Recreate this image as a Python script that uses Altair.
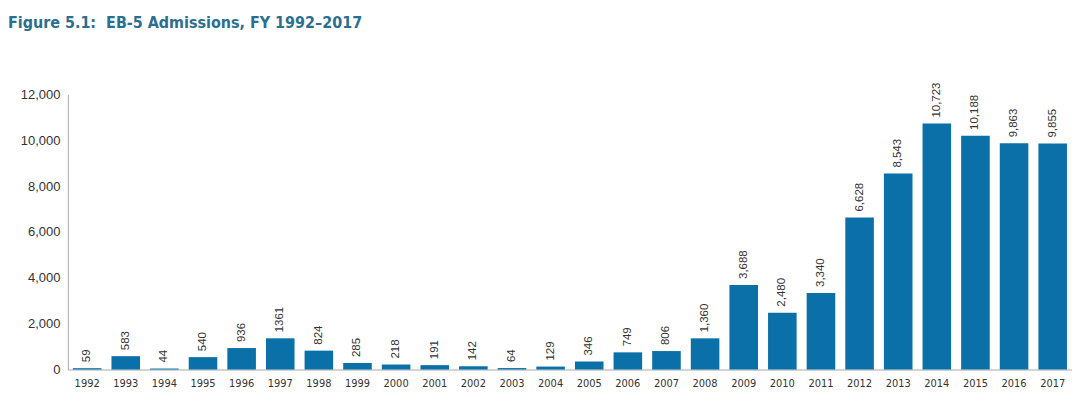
import altair as alt
import pandas as pd

years = [str(y) for y in range(1992, 2018)]
admissions = [59, 583, 44, 540, 936, 1361, 824, 285, 218, 191, 142, 64, 129,
              346, 749, 806, 1360, 3688, 2480, 3340, 6628, 8543, 10723, 10188,
              9863, 9855]
labels = ["59", "583", "44", "540", "936", "1361", "824", "285", "218", "191",
          "142", "64", "129", "346", "749", "806", "1,360", "3,688", "2,480",
          "3,340", "6,628", "8,543", "10,723", "10,188", "9,863", "9,855"]

df = pd.DataFrame({"year": years, "value": admissions, "label": labels})

x = alt.X("year:N", title=None, sort=None,
          scale=alt.Scale(paddingInner=0.26, paddingOuter=0.13),
          axis=alt.Axis(labelAngle=0, labelFontSize=11, labelColor="#333333",
                        labelFont="DejaVu Sans Condensed", domainColor="#aaaaaa",
                        ticks=False, labelPadding=8))
y = alt.Y("value:Q", title=None,
          scale=alt.Scale(domain=[0, 12000]),
          axis=alt.Axis(values=list(range(0, 12001, 2000)), format=",d",
                        grid=False, ticks=False, labelFontSize=13,
                        labelColor="#333333", labelFont="Liberation Sans",
                        domainColor="#aaaaaa", labelPadding=8))

bars = alt.Chart(df).mark_bar(color="#0a70a7").encode(x=x, y=y)
text = alt.Chart(df).mark_text(angle=270, align="left", baseline="middle",
                               dx=6, fontSize=11.5, color="#333333",
                               font="Liberation Sans").encode(
    x=alt.X("year:N", sort=None), y="value:Q", text="label:N")

chart = (bars + text).properties(
    width=1007, height=276,
    padding={"left": 60, "top": 86, "right": 0, "bottom": 25},
    autosize=alt.AutoSizeParams(type="none"),
    title=alt.TitleParams(
        "Figure 5.1:\u00a0 EB-5 Admissions, FY 1992\u20132017",
        anchor="start", frame="group", font="DejaVu Sans Condensed",
        fontSize=16, fontWeight="bold", color="#2a6f8f", dx=-60, dy=-48)
).configure_view(stroke=None)

chart.save("out.html", embed_options={"renderer": "svg", "actions": False})
